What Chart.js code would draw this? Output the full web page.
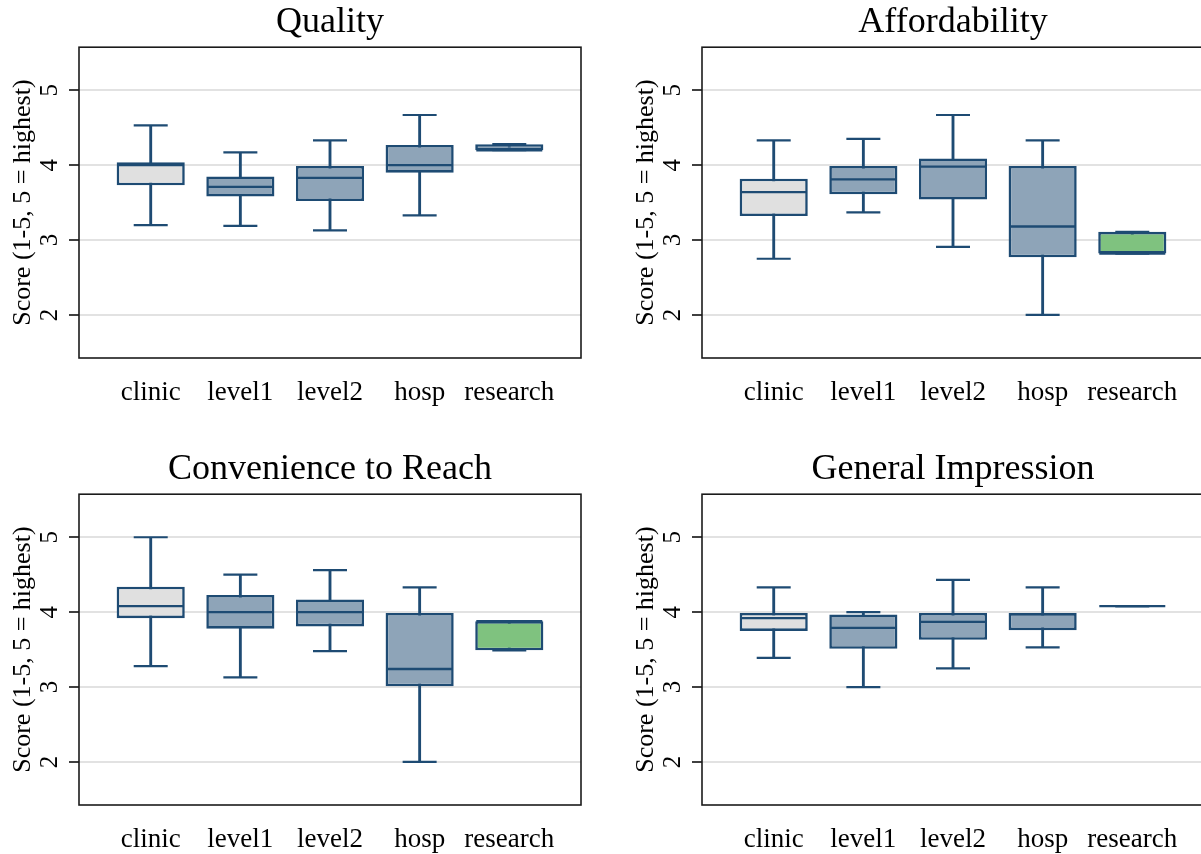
<!DOCTYPE html>
<html>
<head>
<meta charset="utf-8">
<title>Facility ratings by type</title>
<script src="https://cdn.jsdelivr.net/npm/chart.js@4.4.1/dist/chart.umd.min.js"></script>
<style>
  html, body { margin: 0; padding: 0; background: #fff; width: 1201px; height: 854px; overflow: hidden; position: relative; }
  canvas { position: absolute; display: block; }
</style>
</head>
<body>
<canvas id="p0" width="600" height="407" style="left:0;top:0"></canvas>
<canvas id="p1" width="600" height="407" style="left:623px;top:0"></canvas>
<canvas id="p2" width="600" height="407" style="left:0;top:447px"></canvas>
<canvas id="p3" width="600" height="407" style="left:623px;top:447px"></canvas>
<script>
// Facility types along the x axis and the score ticks on the y axis
const categories = ['clinic', 'level1', 'level2', 'hosp', 'research'];
const yTicks = [2, 3, 4, 5];
const yTitle = 'Score (1-5, 5 = highest)';

// Quality: whisker ends, quartiles and medians per facility type
const qualityTitle = 'Quality';
const qualityMin = [3.20, 3.19, 3.13, 3.33, 4.20];
const qualityQ1  = [3.73, 3.58, 3.52, 3.90, 4.20];
const qualityMed = [4.00, 3.71, 3.83, 4.00, 4.20];
const qualityQ3  = [4.04, 3.85, 3.99, 4.27, 4.28];
const qualityMax = [4.53, 4.17, 4.33, 4.67, 4.28];

// Affordability
const affordTitle = 'Affordability';
const affordMin = [2.75, 3.37, 2.91, 2.00, 2.82];
const affordQ1  = [3.32, 3.61, 3.54, 2.77, 2.82];
const affordMed = [3.64, 3.81, 3.98, 3.18, 2.82];
const affordQ3  = [3.82, 3.99, 4.09, 3.99, 3.11];
const affordMax = [4.33, 4.35, 4.67, 4.33, 3.11];

// Convenience to Reach
const reachTitle = 'Convenience to Reach';
const reachMin = [3.28, 3.13, 3.48, 2.00, 3.49];
const reachQ1  = [3.92, 3.78, 3.81, 3.01, 3.49];
const reachMed = [4.08, 4.00, 4.00, 3.24, 3.88];
const reachQ3  = [4.34, 4.23, 4.17, 3.99, 3.88];
const reachMax = [5.00, 4.50, 4.56, 4.33, 3.88];

// General Impression
const generalTitle = 'General Impression';
const generalMin = [3.39, 3.00, 3.25, 3.53, 4.08];
const generalQ1  = [3.75, 3.51, 3.63, 3.76, 4.08];
const generalMed = [3.92, 3.79, 3.87, 3.97, 4.08];
const generalQ3  = [3.99, 3.97, 3.99, 3.99, 4.08];
const generalMax = [4.33, 4.00, 4.43, 4.33, 4.08];

// Colours
const INK = '#1e4b73';
const GREY = '#e0e0e0';
const STEEL = '#8ea4b8';
const GREEN = '#7fc27f';
const GRID = '#e2e2e2';

Chart.defaults.font.family = "'Liberation Serif', 'Times New Roman', serif";
Chart.defaults.color = '#000';

// Outline around the plot region
const framePlugin = {
  id: 'frame',
  afterDatasetsDraw(chart) {
    const { ctx, chartArea: a } = chart;
    ctx.save();
    ctx.strokeStyle = '#1b1b1b';
    ctx.lineWidth = 1.6;
    ctx.strokeRect(a.left, a.top, a.right - a.left, a.bottom - a.top);
    ctx.restore();
  }
};

function boxPlot(canvasId, title, mins, q1s, meds, q3s, maxs, fills) {
  const pos = (i) => i + 1;
  const datasets = [
    { // medians
      type: 'scatter',
      data: meds.map((v, i) => ({ x: pos(i), y: v })),
      pointStyle: 'line', pointRadius: 33, pointHoverRadius: 33,
      borderColor: INK, pointBorderWidth: 2.4, borderWidth: 2.4,
      order: 1
    },
    { // whisker caps
      type: 'scatter',
      data: mins.map((v, i) => ({ x: pos(i), y: v })).concat(maxs.map((v, i) => ({ x: pos(i), y: v }))),
      pointStyle: 'line', pointRadius: 17, pointHoverRadius: 17,
      borderColor: INK, pointBorderWidth: 2.2, borderWidth: 2.2,
      order: 4
    },
    { // interquartile boxes
      type: 'bar',
      data: q1s.map((v, i) => ({ x: pos(i), y: [v, q3s[i]] })),
      backgroundColor: fills,
      borderColor: INK,
      borderWidth: 2.6,
      borderSkipped: false,
      grouped: false,
      categoryPercentage: 1,
      barPercentage: 0.76,
      order: 2
    },
    { // whisker stems
      type: 'bar',
      data: mins.map((v, i) => ({ x: pos(i), y: [v, maxs[i]] })),
      backgroundColor: INK,
      borderWidth: 0,
      barThickness: 2.2,
      grouped: false,
      order: 3
    }
  ];

  return new Chart(document.getElementById(canvasId), {
    type: 'bar',
    data: { datasets },
    plugins: [framePlugin],
    options: {
      responsive: false,
      animation: false,
      events: [],
      layout: { autoPadding: false, padding: { left: 0, right: 19, top: 0, bottom: 0 } },
      plugins: {
        legend: { display: false },
        tooltip: { enabled: false },
        title: {
          display: true,
          text: title,
          fullSize: false,
          color: '#000',
          font: { size: 36, weight: 'normal' },
          padding: { top: 1, bottom: 3 }
        }
      },
      scales: {
        x: {
          type: 'linear',
          offset: false,
          min: 0.2,
          max: 5.8,
          grid: { display: false, drawTicks: false, offset: false },
          border: { display: false },
          afterBuildTicks: (s) => { s.ticks = categories.map((_, i) => ({ value: pos(i) })); },
          afterFit: (s) => { s.height = 49; s.paddingLeft = 0; s.paddingRight = 0; },
          ticks: {
            autoSkip: false,
            maxRotation: 0,
            padding: 19,
            color: '#000',
            font: { size: 27 },
            callback: (v) => categories[Math.round(v) - 1]
          }
        },
        y: {
          type: 'linear',
          min: 1.425,
          max: 5.575,
          afterBuildTicks: (s) => { s.ticks = yTicks.map((v) => ({ value: v })); },
          afterFit: (s) => { s.width = 79; s.paddingTop = 0; s.paddingBottom = 0; },
          border: { display: false },
          grid: { color: GRID, lineWidth: 2, tickLength: 10, tickColor: '#000', tickWidth: 1.5 },
          ticks: {
            minRotation: 90,
            maxRotation: 90,
            crossAlign: 'center',
            padding: 12,
            color: '#000',
            font: { size: 25 }
          },
          title: {
            display: true,
            text: yTitle,
            color: '#000',
            font: { size: 26 },
            padding: { top: 8, bottom: 0 }
          }
        }
      }
    }
  });
}

boxPlot('p0', qualityTitle, qualityMin, qualityQ1, qualityMed, qualityQ3, qualityMax,
  [GREY, STEEL, STEEL, STEEL, STEEL]);
boxPlot('p1', affordTitle, affordMin, affordQ1, affordMed, affordQ3, affordMax,
  [GREY, STEEL, STEEL, STEEL, GREEN]);
boxPlot('p2', reachTitle, reachMin, reachQ1, reachMed, reachQ3, reachMax,
  [GREY, STEEL, STEEL, STEEL, GREEN]);
boxPlot('p3', generalTitle, generalMin, generalQ1, generalMed, generalQ3, generalMax,
  [GREY, STEEL, STEEL, STEEL, STEEL]);
</script>
</body>
</html>
